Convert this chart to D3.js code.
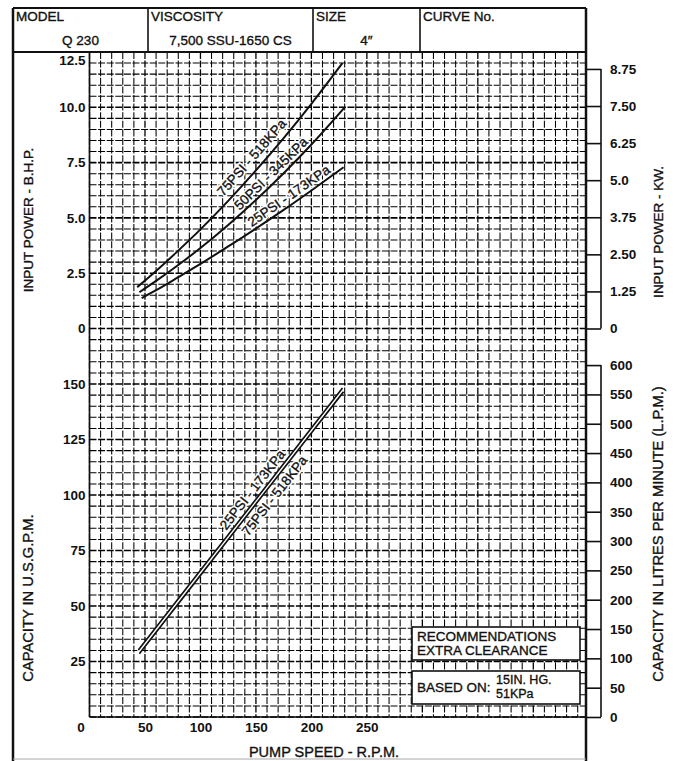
<!DOCTYPE html>
<html>
<head>
<meta charset="utf-8">
<script src="https://cdn.jsdelivr.net/npm/d3@7"></script>
<style>
body { margin: 0; background: #fff; }
text { font-family: "Liberation Sans", Arial, sans-serif; fill: #111; }
.heavy { stroke: #111; stroke-width: 0.35px; }
</style>
</head>
<body>
<div id="chart"></div>
<script>
// header
const headTitles = ["MODEL", "VISCOSITY", "SIZE", "CURVE No."];
const headValues = ["Q 230", "7,500 SSU-1650 CS", "4\u2033", ""];

// axes
const rpmTicks = [0, 50, 100, 150, 200, 250];
const bhpTicks = [0, 2.5, 5, 7.5, 10, 12.5];
const bhpLabels = ["0", "2.5", "5.0", "7.5", "10.0", "12.5"];
const gpmTicks = [25, 50, 75, 100, 125, 150];
const kwTicks = [0, 1.25, 2.5, 3.75, 5, 6.25, 7.5, 8.75];
const kwLabels = ["0", "1.25", "2.50", "3.75", "5.0", "6.25", "7.50", "8.75"];
const lpmTicks = [0, 50, 100, 150, 200, 250, 300, 350, 400, 450, 500, 550, 600];

// input power (B.H.P.) vs pump speed
const rpm75 = [43, 60, 80, 100, 125, 150, 175, 200, 228];
const bhp75 = [1.87, 2.6, 3.52, 4.48, 5.77, 7.15, 8.61, 10.16, 12.0];
const rpm50 = [45, 60, 80, 100, 125, 150, 175, 200, 230];
const bhp50 = [1.64, 2.15, 2.87, 3.64, 4.68, 5.81, 7.02, 8.32, 10.0];
const rpm25 = [47, 60, 80, 100, 125, 150, 175, 200, 229];
const bhp25 = [1.37, 1.73, 2.32, 2.92, 3.71, 4.52, 5.36, 6.24, 7.29];

// capacity (U.S.G.P.M.) vs pump speed
const capRpm25 = [44, 100, 150, 200, 228];
const cap25 = [30.2, 66.1, 98.1, 130.2, 148.2];
const capRpm75 = [45, 100, 150, 200, 229];
const cap75 = [28.5, 63.8, 95.9, 127.9, 146.5];

const powerCurves = [
  { name: "75PSI - 518KPa", rpm: rpm75, val: bhp75, at: 154, dy: -7 },
  { name: "50PSI - 345KPa", rpm: rpm50, val: bhp50, at: 169, dy: -4 },
  { name: "25PSI - 173KPa", rpm: rpm25, val: bhp25, at: 184, dy: -4 }
];
const capCurves = [
  { name: "25PSI - 173KPa", rpm: capRpm25, val: cap25, at: 153, dy: -4 },
  { name: "75PSI - 518KPa", rpm: capRpm75, val: cap75, at: 160, dy: 14 }
];

const width = 678, height = 761;
const frameL = 13, frameR = 586, frameT = 8;
const gLeft = 89.5, gTop = 52, gMid = 328.5, gBottom = 717;

const svg = d3.select("#chart").append("svg")
  .attr("width", width).attr("height", height);

const x = d3.scaleLinear().domain([0, 447.5]).range([gLeft, frameR]);
const yPow = d3.scaleLinear().domain([0, 12.5]).range([gMid, gTop]);
const yCap = d3.scaleLinear().domain([0, 175]).range([gBottom, gMid]);
const yKw = d3.scaleLinear().domain([0, 12.5 * 0.7457]).range([gMid, gTop]);
const yLpm = d3.scaleLinear().domain([0, 175 * 3.785]).range([gBottom, gMid]);

// grid
const grid = svg.append("g").attr("stroke", "#000").attr("stroke-dasharray", "7,1.6");
grid.selectAll("line.v").data(d3.range(0, 447, 10)).join("line")
  .attr("class", "v")
  .attr("x1", d => x(d)).attr("x2", d => x(d))
  .attr("y1", gTop).attr("y2", gBottom)
  .attr("stroke-width", d => d % 50 === 0 ? 1.3 : 1.05);
grid.selectAll("line.hp").data(d3.range(0, 12.51, 0.5)).join("line")
  .attr("class", "hp")
  .attr("x1", gLeft).attr("x2", frameR)
  .attr("y1", d => yPow(d)).attr("y2", d => yPow(d))
  .attr("stroke-width", d => d % 2.5 === 0 ? 1.6 : 1.05);
grid.selectAll("line.hc").data(d3.range(0, 175, 5)).join("line")
  .attr("class", "hc")
  .attr("x1", gLeft).attr("x2", frameR)
  .attr("y1", d => yCap(d)).attr("y2", d => yCap(d))
  .attr("stroke-width", d => d % 25 === 0 ? 1.6 : 1.05);

svg.append("line").attr("x1", gLeft).attr("x2", gLeft).attr("y1", gTop).attr("y2", gBottom)
  .attr("stroke", "#111").attr("stroke-width", 1.6);
svg.append("line").attr("x1", gLeft).attr("x2", frameR).attr("y1", gBottom).attr("y2", gBottom)
  .attr("stroke", "#111").attr("stroke-width", 1.6);

// frame and header
const frame = svg.append("g").attr("stroke", "#111");
frame.append("line").attr("x1", frameL).attr("x2", frameL).attr("y1", frameT).attr("y2", height).attr("stroke-width", 2.5);
frame.append("line").attr("x1", frameR).attr("x2", frameR).attr("y1", frameT).attr("y2", height).attr("stroke-width", 2.5);
frame.append("line").attr("x1", frameL).attr("x2", frameR).attr("y1", frameT).attr("y2", frameT).attr("stroke-width", 2);
frame.append("line").attr("x1", frameL).attr("x2", frameR).attr("y1", gTop).attr("y2", gTop).attr("stroke-width", 2);
frame.append("line").attr("x1", frameL).attr("x2", frameR).attr("y1", 759).attr("y2", 759)
  .attr("stroke", "#aaa").attr("stroke-width", 1);

const colEdges = [frameL, 148, 313, 420, frameR];
frame.selectAll("line.col").data(colEdges.slice(1, 4)).join("line")
  .attr("class", "col")
  .attr("x1", d => d).attr("x2", d => d).attr("y1", frameT).attr("y2", gTop)
  .attr("stroke-width", 1.6);

svg.selectAll("text.ht").data(headTitles).join("text")
  .attr("class", "ht heavy")
  .attr("x", (d, i) => colEdges[i] + 3).attr("y", 21)
  .attr("font-size", 13.5).text(d => d);
svg.selectAll("text.hv").data(headValues).join("text")
  .attr("class", "hv heavy")
  .attr("x", (d, i) => (colEdges[i] + colEdges[i + 1]) / 2).attr("y", 45)
  .attr("text-anchor", "middle").attr("font-size", 13.5).text(d => d);

// left axes
const axL1 = svg.append("g").attr("transform", `translate(${gLeft},0)`)
  .call(d3.axisLeft(yPow).tickValues(bhpTicks).tickSize(0).tickPadding(4)
    .tickFormat((d, i) => bhpLabels[i]));
axL1.select(".domain").remove();
axL1.selectAll(".tick").filter(d => d === 12.5).select("text").attr("dy", "0.9em");

const axL2 = svg.append("g").attr("transform", `translate(${gLeft},0)`)
  .call(d3.axisLeft(yCap).tickValues(gpmTicks).tickSize(0).tickPadding(4));
axL2.select(".domain").remove();

const axB = svg.append("g").attr("transform", `translate(0,${gBottom})`)
  .call(d3.axisBottom(x).tickValues(rpmTicks).tickSize(0).tickPadding(5));
axB.select(".domain").remove();
axB.selectAll(".tick").filter(d => d === 0).select("text").attr("dx", -9);

// right axes (tick strips)
const stripW = 15;
const axR1 = svg.append("g").attr("transform", `translate(${frameR},0)`)
  .call(d3.axisRight(yKw).tickValues(kwTicks).tickSizeInner(stripW).tickSizeOuter(0).tickPadding(9)
    .tickFormat((d, i) => kwLabels[i]));
const axR2 = svg.append("g").attr("transform", `translate(${frameR},0)`)
  .call(d3.axisRight(yLpm).tickValues(lpmTicks).tickSizeInner(stripW).tickSizeOuter(0).tickPadding(9));
[axR1, axR2].forEach(a => a.select(".domain").remove());
svg.append("line").attr("x1", frameR + stripW).attr("x2", frameR + stripW)
  .attr("y1", yKw(8.75)).attr("y2", yKw(0)).attr("stroke", "#111").attr("stroke-width", 1.6);
svg.append("line").attr("x1", frameR + stripW).attr("x2", frameR + stripW)
  .attr("y1", yLpm(600)).attr("y2", yLpm(0)).attr("stroke", "#111").attr("stroke-width", 1.6);

svg.selectAll(".tick line").attr("stroke", "#111").attr("stroke-width", 1.6);
svg.selectAll(".tick text").attr("font-size", 13.5).attr("font-weight", "bold")
  .attr("font-family", "'Liberation Sans', Arial, sans-serif").attr("fill", "#111");

// axis titles
function vTitle(txt, cx, cy, size) {
  svg.append("text").attr("class", "heavy")
    .attr("transform", `translate(${cx},${cy}) rotate(-90)`)
    .attr("text-anchor", "middle").attr("font-size", size).text(txt);
}
vTitle("INPUT POWER - B.H.P.", 33, 220, 13.5);
vTitle("CAPACITY IN U.S.G.P.M.", 33, 598, 14.7);
vTitle("INPUT POWER - KW.", 663, 232, 13.5);
vTitle("CAPACITY IN LITRES PER MINUTE (L.P.M.)", 663, 534, 14.7);
svg.append("text").attr("class", "heavy").attr("x", 324).attr("y", 757).attr("text-anchor", "middle")
  .attr("font-size", 14.5).text("PUMP SPEED - R.P.M.");

// curves
function interp(c, r) {
  return d3.scaleLinear().domain(c.rpm).range(c.val)(r);
}
function drawCurves(curves, yS, cls) {
  const line = d3.line().x(d => x(d[0])).y(d => yS(d[1])).curve(d3.curveMonotoneX);
  return svg.selectAll("path." + cls).data(curves).join("path")
    .attr("class", cls)
    .attr("d", c => line(c.rpm.map((r, i) => [r, c.val[i]])))
    .attr("fill", "none").attr("stroke", "#111").attr("stroke-width", 1.8);
}
function labelPos(c, yS) {
  const px = x(c.at), py = yS(interp(c, c.at));
  const a = Math.atan2(yS(interp(c, c.at + 12)) - yS(interp(c, c.at - 12)), x(c.at + 12) - x(c.at - 12)) * 180 / Math.PI;
  return `translate(${px},${py}) rotate(${a})`;
}
function drawLabels(curves, yS, cls) {
  const g = svg.append("g").attr("class", cls);
  // white halo first, then the dark text on top
  g.selectAll("text.halo").data(curves).join("text")
    .attr("class", "halo")
    .attr("transform", c => labelPos(c, yS)).attr("dy", c => c.dy)
    .attr("text-anchor", "middle").attr("font-size", 13.5)
    .attr("fill", "#fff").attr("stroke", "#fff").attr("stroke-width", 3.5)
    .text(c => c.name);
  g.selectAll("text.lab").data(curves).join("text")
    .attr("class", "lab heavy")
    .attr("transform", c => labelPos(c, yS)).attr("dy", c => c.dy)
    .attr("text-anchor", "middle").attr("font-size", 13.5)
    .text(c => c.name);
}

// white channel behind the double capacity line
const capLine = d3.line().x(d => x(d[0])).y(d => yCap(d[1]));
svg.append("path")
  .attr("d", capLine(capRpm25.map((r, i) => [r, (cap25[i] + interp(capCurves[1], r)) / 2])))
  .attr("fill", "none").attr("stroke", "#fff").attr("stroke-width", 4);

drawCurves(powerCurves, yPow, "pc").attr("stroke-width", 2);
drawCurves(capCurves, yCap, "cc").attr("stroke-width", 1.7);
drawLabels(powerCurves, yPow, "pl");
drawLabels(capCurves, yCap, "cl");

// note boxes
const notes = svg.append("g");
notes.append("rect").attr("x", 412).attr("y", 627).attr("width", 168).attr("height", 33)
  .attr("fill", "#fff").attr("stroke", "#111").attr("stroke-width", 1.6);
notes.append("text").attr("class", "heavy").attr("x", 417).attr("y", 641).attr("font-size", 13.5).text("RECOMMENDATIONS");
notes.append("text").attr("class", "heavy").attr("x", 417).attr("y", 655).attr("font-size", 13.5).text("EXTRA CLEARANCE");
notes.append("rect").attr("x", 412).attr("y", 671).attr("width", 168).attr("height", 33)
  .attr("fill", "#fff").attr("stroke", "#111").attr("stroke-width", 1.6);
notes.append("text").attr("class", "heavy").attr("x", 417).attr("y", 692).attr("font-size", 13.5).text("BASED ON:");
notes.append("text").attr("class", "heavy").attr("x", 496).attr("y", 684).attr("font-size", 12.5).text("15IN. HG.");
notes.append("text").attr("class", "heavy").attr("x", 496).attr("y", 698).attr("font-size", 12.5).text("51KPa");
</script>
</body>
</html>
